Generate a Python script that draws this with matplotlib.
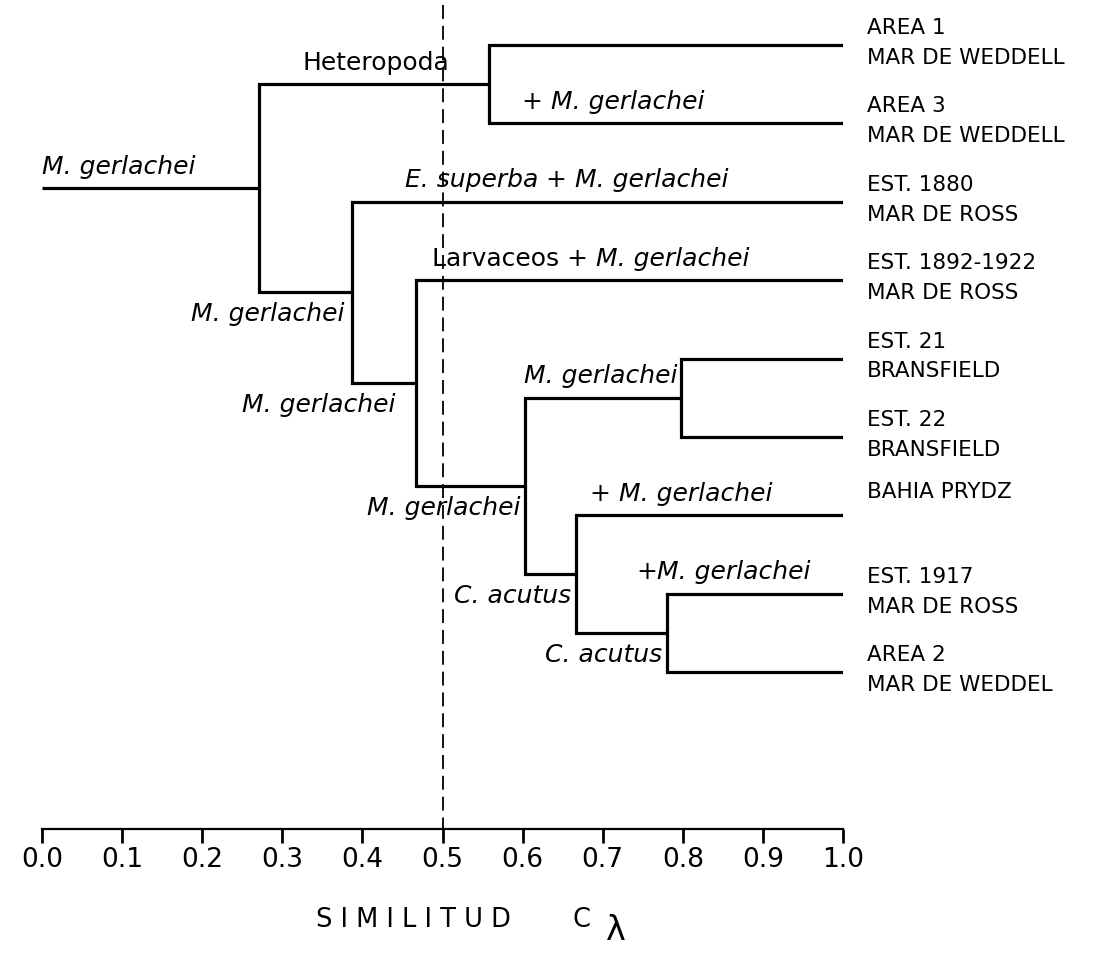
import matplotlib
matplotlib.use("Agg")
import matplotlib.pyplot as plt

plt.rcParams['font.family'] = ['DejaVu Sans']
plt.rcParams['lines.scale_dashes'] = False

# ---------------- data ----------------
leaf_labels = ["AREA 1\nMAR DE WEDDELL", "AREA 3\nMAR DE WEDDELL",
               "EST. 1880\nMAR DE ROSS", "EST. 1892-1922\nMAR DE ROSS",
               "EST. 21\nBRANSFIELD", "EST. 22\nBRANSFIELD",
               "BAHIA PRYDZ", "EST. 1917\nMAR DE ROSS",
               "AREA 2\nMAR DE WEDDEL"]
# merges: node ids continue after the 9 leaves (9, 10, ...)
merge_left = [0, 4, 7, 6, 10, 3, 2, 9]
merge_right = [1, 5, 8, 11, 12, 13, 14, 15]
merge_similarity = [0.558, 0.798, 0.780, 0.667, 0.603, 0.467, 0.387, 0.271]

# labels on branches: (child id of the branch, pieces (text, italic))
branch_label_child = [16, 9, 1, 2, 3, 15, 14, 10, 13, 6, 12, 7, 11]
branch_label_pieces = [
    [("M. gerlachei", True)],
    [("Heteropoda", False)],
    [("+ ", False), ("M. gerlachei", True)],
    [("E. superba", True), (" + ", False), ("M. gerlachei", True)],
    [("Larvaceos + ", False), ("M. gerlachei", True)],
    [("M. gerlachei", True)],
    [("M. gerlachei", True)],
    [("M. gerlachei", True)],
    [("M. gerlachei", True)],
    [("+ ", False), ("M. gerlachei", True)],
    [("C. acutus", True)],
    [("+", False), ("M. gerlachei", True)],
    [("C. acutus", True)],
]
tick_values = [0.0, 0.1, 0.2, 0.3, 0.4, 0.5, 0.6, 0.7, 0.8, 0.9, 1.0]
tick_labels = ["0.0", "0.1", "0.2", "0.3", "0.4", "0.5", "0.6", "0.7", "0.8", "0.9", "1.0"]
cut_value = 0.5
axis_title = "S I M I L I T U D"

# ---------------- layout (positions/styles) ----------------
label_side = ["above", "above", "above", "above", "above", "below", "below",
              "above", "below", "above", "below", "above", "below"]
label_x = [0.0, 0.509, 0.599, 0.453, 0.487, 0.378, 0.441,
           0.793, 0.597, 0.684, 0.660, 0.742, 0.774]
label_ha = ["left", "right", "left", "left", "left", "right", "right",
            "right", "right", "left", "right", "left", "right"]

W, H = 1117, 956
fig = plt.figure(figsize=(W / 100, H / 100), dpi=100)
fig.patch.set_facecolor("white")
ax = fig.add_axes([42 / W, 1 - 829 / H, 801 / W, 829 / H])
ax.set_xlim(0, 1)
ax.set_ylim(10, -45 / 78.4)

n = len(leaf_labels)
node_x = {i: 1.0 for i in range(n)}
node_y = {i: float(i) for i in range(n)}
LW = 2.3
for k, (a, b, s) in enumerate(zip(merge_left, merge_right, merge_similarity)):
    nid = n + k
    node_x[nid] = s
    node_y[nid] = (node_y[a] + node_y[b]) / 2
    ax.plot([node_x[a], s, s, node_x[b]], [node_y[a], node_y[a], node_y[b], node_y[b]],
            color="black", lw=LW, solid_joinstyle="miter", solid_capstyle="butt")
root = n + len(merge_similarity) - 1
ax.plot([0, node_x[root]], [node_y[root], node_y[root]], color="black", lw=LW,
        solid_capstyle="butt")

# dashed cut line
ax.plot([cut_value, cut_value], [-0.51, 10], color="black", lw=1.3,
        dashes=(10, 5), clip_on=False)

# branch labels
FS = 18
for child, pieces, side, lx, ha in zip(branch_label_child, branch_label_pieces,
                                       label_side, label_x, label_ha):
    y = node_y[child]
    off = 15.5 if side == "above" else -15.5
    prev = None
    for txt, it in pieces:
        style = "italic" if it else "normal"
        if prev is None:
            prev = ax.annotate(txt, xy=(lx, y), xytext=(0, off), textcoords="offset points",
                               ha=ha, va="center", fontsize=FS, style=style,
                               annotation_clip=False)
        else:
            prev = ax.annotate(txt, xy=(1, 0.5), xycoords=prev, ha="left", va="center",
                               fontsize=FS, style=style, annotation_clip=False)

# leaf labels
for i, lab in enumerate(leaf_labels):
    if "\n" in lab:
        ax.annotate(lab, xy=(1.0, node_y[i]), xytext=(17.5, 1.5), textcoords="offset points",
                    ha="left", va="center", fontsize=15.5, linespacing=1.62,
                    annotation_clip=False)
    else:
        ax.annotate(lab, xy=(1.0, node_y[i]), xytext=(17.5, 17), textcoords="offset points",
                    ha="left", va="center", fontsize=15.5, annotation_clip=False)

# axis
for sp in ["top", "left", "right"]:
    ax.spines[sp].set_visible(False)
ax.spines["bottom"].set_linewidth(1.6)
ax.set_yticks([])
ax.set_xticks(tick_values)
ax.set_xticklabels(tick_labels)
ax.tick_params(axis="x", direction="out", length=10, width=2.0, labelsize=19, pad=3)
ax.patch.set_alpha(0)

fig.text(413 / W, 1 - 920 / H, axis_title, ha="center", va="center", fontsize=18.5)
fig.text(582 / W, 1 - 920 / H, "C", ha="center", va="center", fontsize=18.5)
fig.text(616 / W, 1 - 930 / H, "λ", ha="center", va="center", fontsize=24)

fig.savefig("out.png", dpi=100, facecolor="white")
